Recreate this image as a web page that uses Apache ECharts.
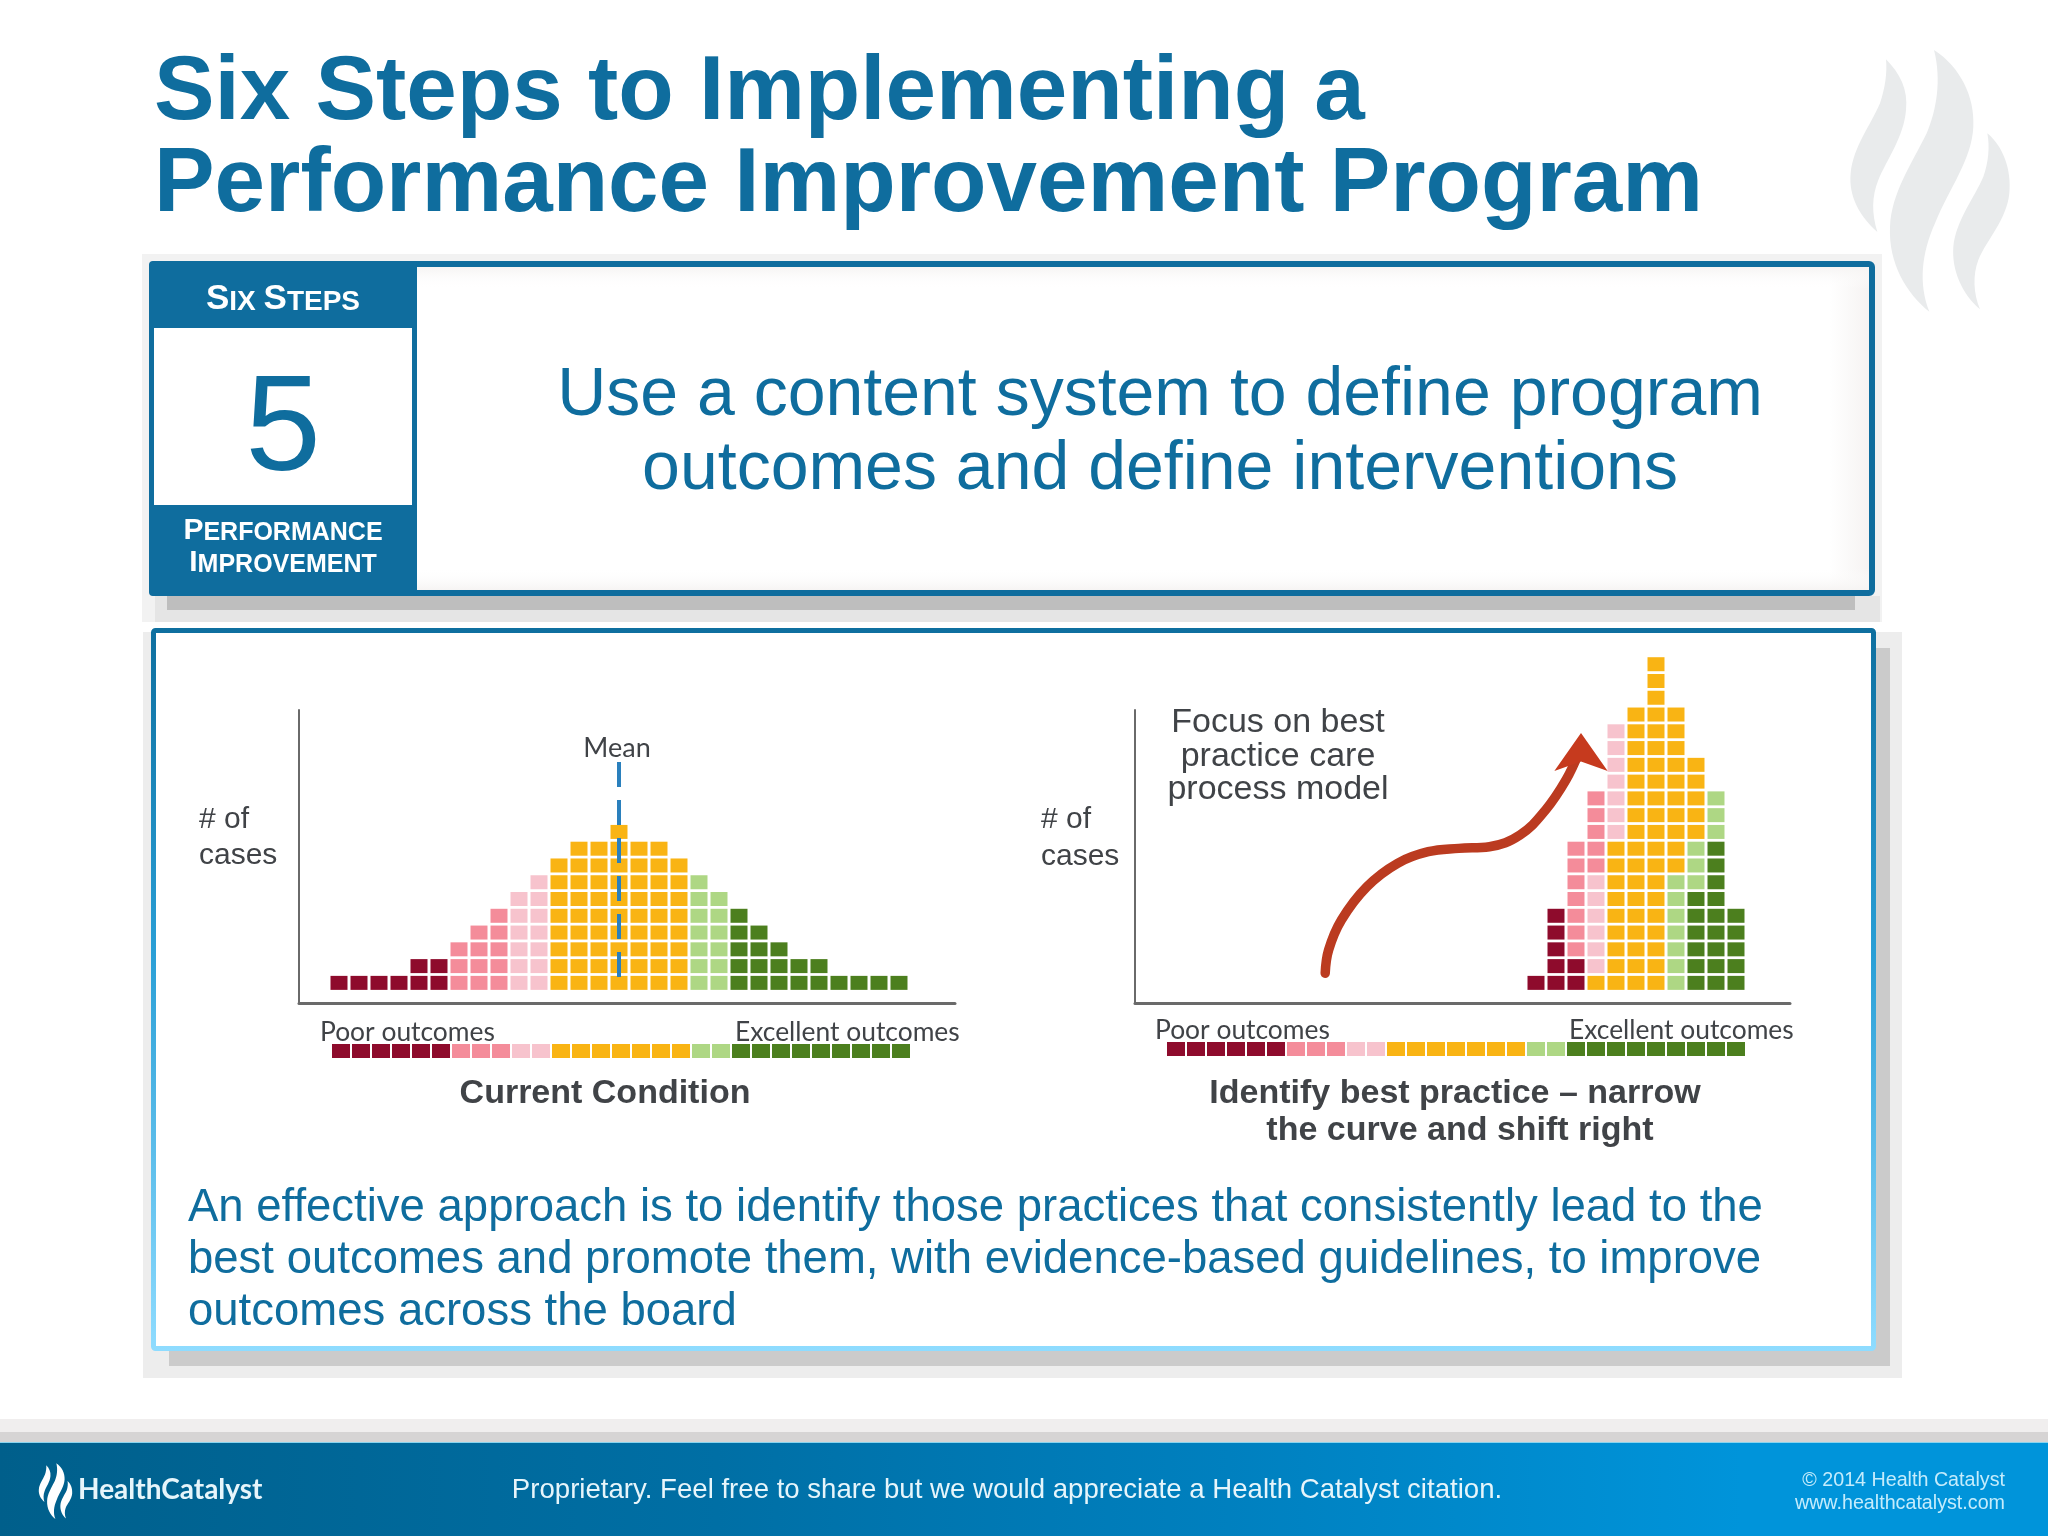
<!DOCTYPE html>
<html>
<head>
<meta charset="utf-8">
<style>html,body{margin:0;padding:0;background:#fff}#main{width:2048px;height:1536px}</style>
<script src="https://cdn.jsdelivr.net/npm/echarts@6/dist/echarts.min.js"></script>
</head>
<body>
<div id="main"></div>
<script>
// colour bands, left (poor) to right (excellent)
var bandColors = {darkRed: '#8e0b2c', pink: '#f48c9a', lightPink: '#f7c3cd', orange: '#f9b414', lightGreen: '#aed784', darkGreen: '#4c7f1e'};

// band of each of the 29 outcome columns, this is also the strip under both charts
var columnBands = ['darkRed', 'darkRed', 'darkRed', 'darkRed', 'darkRed', 'darkRed', 'pink', 'pink', 'pink', 'lightPink', 'lightPink',
  'orange', 'orange', 'orange', 'orange', 'orange', 'orange', 'orange', 'lightGreen', 'lightGreen',
  'darkGreen', 'darkGreen', 'darkGreen', 'darkGreen', 'darkGreen', 'darkGreen', 'darkGreen', 'darkGreen', 'darkGreen'];

// current condition: cases per column
var currentCases = [1, 1, 1, 1, 2, 2, 3, 4, 5, 6, 7, 8, 9, 9, 10, 9, 9, 8, 7, 6, 5, 4, 3, 2, 2, 1, 1, 1, 1];

// best practice: columns 18 to 28, cases per band, stacked bottom up in this order
var bestFirstColumn = 18;
var bestDarkRed = [1, 5, 2, 0, 0, 0, 0, 0, 0, 0, 0];
var bestDarkGreen = [0, 0, 0, 0, 0, 0, 0, 0, 6, 9, 5];
var bestLightGreen = [0, 0, 0, 0, 0, 0, 0, 7, 3, 3, 0];
var bestOrange = [0, 0, 0, 1, 9, 17, 20, 10, 5, 0, 0];
var bestLightPink = [0, 0, 0, 6, 7, 0, 0, 0, 0, 0, 0];
var bestPink = [0, 0, 7, 5, 0, 0, 0, 0, 0, 0, 0];

var meanLine = [[14, 14.17], [14, 0.75]];
var arrowPath = [[7.46, 1.57], [7.63, 2.96], [8.27, 4.75], [9.55, 6.74], [11.08, 8.13], [12.61, 8.82], [14.14, 9.02], [15.67, 9.12], [17.2, 9.82], [18.48, 11.31], [19.5, 13.1], [20.13, 14.69]];
var arrowTip = [[20.25, 15.9]];

var ARIAL = '"Liberation Sans", Arial, sans-serif';
var LATO = 'Lato, sans-serif';
var BLUE = '#0f6d9e';
var DARK = '#404347';

// the three flames of the logo
echarts.graphic.registerShape('flame1', echarts.graphic.extendPath('M318 88C360 130 385 180 378 240C372 320 320 390 295 450C275 500 275 550 292 606C240 560 205 500 212 430C220 350 270 290 300 220C315 175 322 130 318 88Z'));
echarts.graphic.registerShape('flame2', echarts.graphic.extendPath('M462 60C540 110 585 200 580 290C575 390 510 470 465 580C425 670 415 760 448 845C380 790 325 700 330 590C335 490 390 410 440 310C470 240 485 150 462 60Z'));
echarts.graphic.registerShape('flame3', echarts.graphic.extendPath('M622 310C670 350 695 420 688 490C680 570 620 630 595 690C578 735 580 790 600 838C545 790 515 720 520 650C528 570 585 500 610 440C625 400 630 350 622 310Z'));

function text(str, x, y, size, color, font, align, weight) {
  return {
    type: 'text', x: x, y: y, silent: true,
    style: {
      text: str, fill: color, textAlign: align || 'center', textVerticalAlign: 'middle',
      font: (weight || 'normal') + ' ' + size + 'px ' + (font || ARIAL)
    }
  };
}

function smallCaps(str, x, y, big, small) {
  return {
    type: 'text', x: x, y: y, silent: true,
    style: {
      text: str, fill: '#fff', align: 'center', verticalAlign: 'middle', textAlign: 'center', textVerticalAlign: 'middle',
      rich: {
        a: {fontFamily: ARIAL, fontWeight: 'bold', fontSize: big, fill: '#fff', color: '#fff', verticalAlign: 'bottom'},
        b: {fontFamily: ARIAL, fontWeight: 'bold', fontSize: small, fill: '#fff', color: '#fff', verticalAlign: 'bottom'}
      }
    }
  };
}

function rect(x, y, w, h, fill, extra) {
  var el = {type: 'rect', silent: true, shape: {x: x, y: y, width: w, height: h, r: (extra && extra.r) || 0}, style: {fill: fill}};
  if (extra && extra.stroke) { el.style.stroke = extra.stroke; el.style.lineWidth = extra.lineWidth; }
  return el;
}

function flames(x, y, sx, sy, fill) {
  return ['flame1', 'flame2', 'flame3'].map(function (t) {
    return {type: t, silent: true, x: x, y: y, scaleX: sx, scaleY: sy, style: {fill: fill}};
  });
}

function fade(x0, y0, x1, y1, from, to) {
  return new echarts.graphic.LinearGradient(x0, y0, x1, y1, [{offset: 0, color: from}, {offset: 1, color: to}]);
}

var frameStroke = new echarts.graphic.LinearGradient(0, 0, 0, 1, [
  {offset: 0, color: '#0e6f9f'}, {offset: 0.45, color: '#2a9fd6'}, {offset: 1, color: '#8fdcff'}
]);
var footerFill = new echarts.graphic.LinearGradient(0, 0, 1, 0, [
  {offset: 0, color: '#005f8b'}, {offset: 0.35, color: '#006fa5'}, {offset: 0.6, color: '#0080bf'}, {offset: 0.85, color: '#0094da'}, {offset: 1, color: '#0094da'}
]);

var slide = flames(1780, 30, 1 / 3, 1 / 3, '#e9ebec').concat([
  text('Six Steps to Implementing a', 154, 94, 90.8, BLUE, ARIAL, 'left', 'bold'),
  text('Performance Improvement Program', 154, 186, 90.8, BLUE, ARIAL, 'left', 'bold'),

  // step box and its shadow
  rect(142, 254, 1740, 368, 'rgba(0,0,0,0.05)'),
  rect(155, 596, 1725, 26, 'rgba(0,0,0,0.05)'),
  rect(167, 596, 1688, 14, 'rgba(0,0,0,0.17)'),
  rect(152, 264, 1720, 329, '#fff', {stroke: BLUE, lineWidth: 6, r: 3}),
  rect(1830, 267, 39, 323, fade(0, 0, 1, 0, '#ffffff', '#f6f3f2')),
  rect(417, 267, 1452, 22, fade(0, 0, 0, 1, '#f6f4f3', 'rgba(255,255,255,0)')),
  rect(417, 568, 1452, 22, fade(0, 0, 0, 1, 'rgba(255,255,255,0)', '#f6f4f3')),
  rect(149, 261, 268, 335, BLUE, {r: 4}),
  rect(154, 328, 258, 177, '#fff'),
  smallCaps('{a|S}{b|IX }{a|S}{b|TEPS}', 283, 299, 35, 28),
  text('5', 283, 432, 136, BLUE),
  smallCaps('{a|P}{b|ERFORMANCE}', 283, 531, 30, 25),
  smallCaps('{a|I}{b|MPROVEMENT}', 283, 563, 30, 25),
  text('Use a content system to define program', 1160, 396, 68, BLUE),
  text('outcomes and define interventions', 1160, 470, 68, BLUE),

  // charts box and its shadow
  rect(143, 632, 1759, 746, 'rgba(0,0,0,0.07)'),
  rect(169, 648, 1721, 718, 'rgba(0,0,0,0.14)'),
  rect(153.5, 630.5, 1720, 718, '#fff', {stroke: frameStroke, lineWidth: 5, r: 2}),

  text('Mean', 617, 748, 27, DARK, LATO),
  text('# of', 199, 820, 30, DARK, ARIAL, 'left'),
  text('cases', 199, 856, 30, DARK, ARIAL, 'left'),
  text('Poor outcomes', 320, 1032, 26.4, DARK, LATO, 'left'),
  text('Excellent outcomes', 735, 1032, 26.4, DARK, LATO, 'left'),
  text('Current Condition', 605, 1094, 34, DARK, ARIAL, 'center', 'bold'),

  text('Focus on best', 1278, 723, 34, DARK),
  text('practice care', 1278, 757, 34, DARK),
  text('process model', 1278, 790, 34, DARK),
  text('# of', 1041, 820, 30, DARK, ARIAL, 'left'),
  text('cases', 1041, 857, 30, DARK, ARIAL, 'left'),
  text('Poor outcomes', 1155, 1030, 26.4, DARK, LATO, 'left'),
  text('Excellent outcomes', 1569, 1030, 26.4, DARK, LATO, 'left'),
  text('Identify best practice \u2013 narrow', 1455, 1094, 34, DARK, ARIAL, 'center', 'bold'),
  text('the curve and shift right', 1460, 1131, 34, DARK, ARIAL, 'center', 'bold'),

  text('An effective approach is to identify those practices that consistently lead to the', 188, 1208, 45.5, BLUE, ARIAL, 'left'),
  text('best outcomes and promote them, with evidence-based guidelines, to improve', 188, 1260, 45.5, BLUE, ARIAL, 'left'),
  text('outcomes across the board', 188, 1312, 45.5, BLUE, ARIAL, 'left'),

  // footer
  rect(0, 1419, 2048, 13, '#f0eeee'),
  rect(0, 1432, 2048, 10, '#d6d4d4'),
  rect(0, 1442, 2048, 94, footerFill),
  rect(0, 1442, 2048, 1, '#8ad4ee')
]).concat(flames(24, 1459, 0.07, 0.071, '#fff')).concat([
  text('HealthCatalyst', 78, 1490, 28, '#e6f5fb', LATO, 'left', 'bold'),
  text('Proprietary. Feel free to share but we would appreciate a Health Catalyst citation.', 1007, 1490, 27.6, '#e6f5fb'),
  text('\u00a9 2014 Health Catalyst', 2005, 1481, 19.7, '#c4ecfc', ARIAL, 'right'),
  text('www.healthcatalyst.com', 2005, 1504, 19.7, '#c4ecfc', ARIAL, 'right')
]);

// one scatter series per colour band, every cell stands on the value axes
function cellSeries(name, points, axisIndex, size) {
  return {
    type: 'scatter', name: name, xAxisIndex: axisIndex, yAxisIndex: axisIndex,
    symbol: 'rect', symbolSize: size, clip: false, silent: true,
    itemStyle: {color: bandColors[name], opacity: 1},
    data: points
  };
}

var series = [];

// left chart and both strips, from the column list
Object.keys(bandColors).forEach(function (band) {
  var left = [], strip = [];
  columnBands.forEach(function (b, col) {
    if (b !== band) return;
    for (var row = 1; row <= currentCases[col]; row++) left.push([col, row]);
    strip.push([col, 1]);
  });
  series.push(cellSeries(band, left, 0, [17, 14]));
  series.push(cellSeries(band, strip, 2, [18, 14]));
  series.push(cellSeries(band, strip, 3, [18, 14]));
});

// right chart, stacks bottom up
var bestStacks = [['darkRed', bestDarkRed], ['darkGreen', bestDarkGreen], ['lightGreen', bestLightGreen], ['orange', bestOrange], ['lightPink', bestLightPink], ['pink', bestPink]];
var stackTop = bestDarkRed.map(function () { return 0; });
bestStacks.forEach(function (s) {
  var pts = [];
  s[1].forEach(function (n, i) {
    for (var k = 0; k < n; k++) { stackTop[i]++; pts.push([bestFirstColumn + i, stackTop[i]]); }
  });
  series.push(cellSeries(s[0], pts, 1, [17, 14]));
});

series.push({
  type: 'line', name: 'Mean', xAxisIndex: 0, yAxisIndex: 0, z: 5, silent: true, symbol: 'none', clip: false,
  lineStyle: {color: '#2a80bd', width: 4, type: [25, 13]},
  data: meanLine
});
series.push({
  type: 'line', name: 'shift', xAxisIndex: 1, yAxisIndex: 1, z: 5, silent: true, symbol: 'none', clip: false, smooth: 0.4,
  lineStyle: {color: '#bb3b20', width: 9.5, cap: 'round'},
  data: arrowPath
});
series.push({
  type: 'scatter', name: 'shift head', xAxisIndex: 1, yAxisIndex: 1, z: 6, silent: true, clip: false,
  symbol: 'arrow', symbolSize: [40, 38],
  itemStyle: {color: '#c63a1e', opacity: 1},
  data: arrowTip
});

var axisLine = function (width) {
  return {show: true, onZero: false, lineStyle: {color: '#6a6a6a', width: width}};
};
function valueAxis(idx, min, max, line) {
  return {
    type: 'value', gridIndex: idx, min: min, max: max,
    show: !!line, axisLine: line || {show: false},
    axisTick: {show: false}, axisLabel: {show: false}, splitLine: {show: false}
  };
}

var chart = echarts.init(document.getElementById('main'));
chart.setOption({
  animation: false,
  backgroundColor: '#fff',
  graphic: {elements: slide},
  grid: [
    {left: 299, top: 710, width: 656, height: 293},
    {left: 1135, top: 710, width: 655, height: 293},
    {left: 301, top: 1041, width: 656, height: 20},
    {left: 1135, top: 1039, width: 655, height: 20}
  ],
  xAxis: [
    valueAxis(0, -2, 30.8, axisLine(3)),
    valueAxis(1, -2.05, 30.7, axisLine(3)),
    valueAxis(2, -2, 30.8),
    valueAxis(3, -2.05, 30.7)
  ],
  yAxis: [
    valueAxis(0, -0.2, 17.27, axisLine(2)),
    valueAxis(1, -0.2, 17.27, axisLine(2)),
    valueAxis(2, 0, 2),
    valueAxis(3, 0, 2)
  ],
  series: series
});
</script>
</body>
</html>
